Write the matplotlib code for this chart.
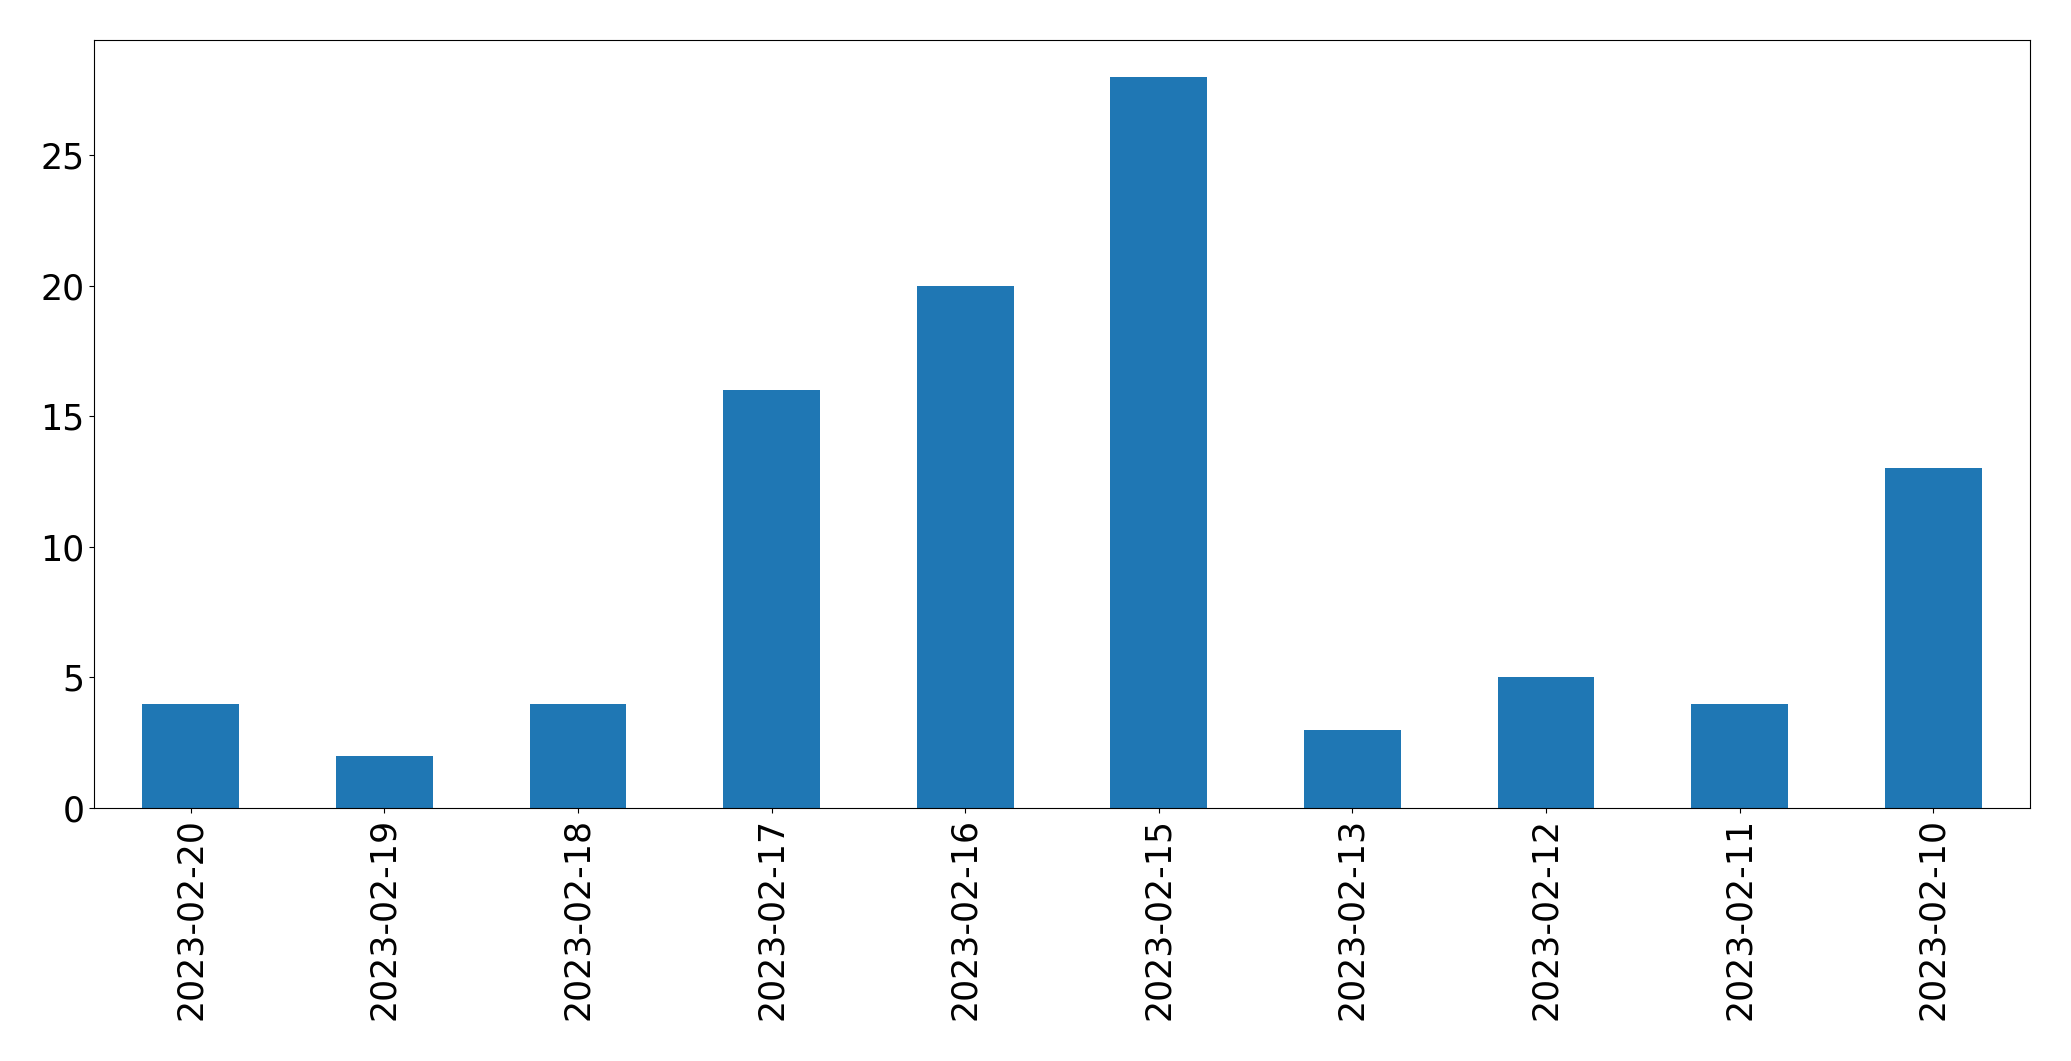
import matplotlib
matplotlib.use("Agg")
import matplotlib.pyplot as plt

dates = ["2023-02-20", "2023-02-19", "2023-02-18", "2023-02-17", "2023-02-16",
         "2023-02-15", "2023-02-13", "2023-02-12", "2023-02-11", "2023-02-10"]
counts = [4, 2, 4, 16, 20, 28, 3, 5, 4, 13]

fig = plt.figure(figsize=(20.71, 10.61), dpi=100)
ax = fig.add_axes([94/2071, 1 - 808/1061, (2030-94)/2071, (808-40)/1061])
x = list(range(len(dates)))
ax.bar(x, counts, width=0.5, color="#1f77b4")
ax.set_xticks(x)
ax.set_xticklabels(dates, rotation=90)
ax.set_xlim(-0.5, len(dates) - 0.5)
ax.set_ylim(0, 29.4)
ax.tick_params(labelsize=25)
fig.savefig("out.png", dpi=100)
